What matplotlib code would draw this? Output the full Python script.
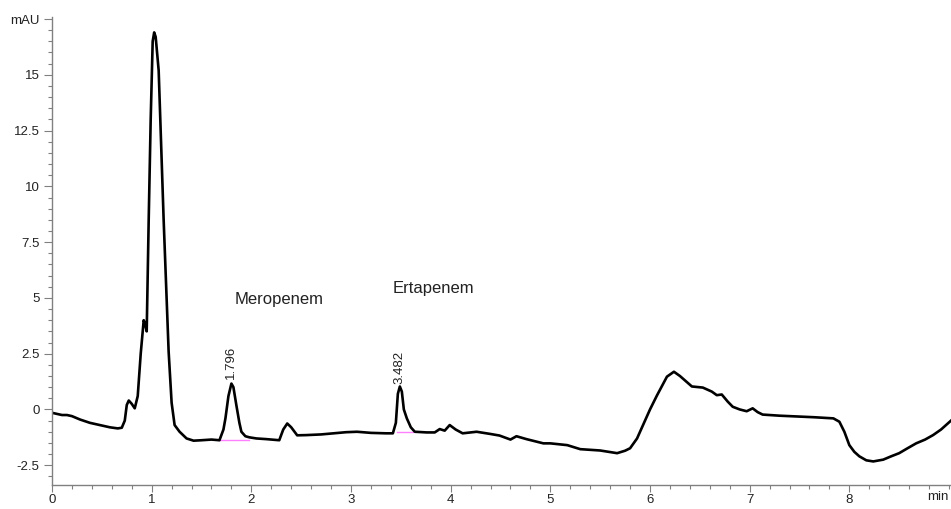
import matplotlib
matplotlib.use("Agg")
import matplotlib.pyplot as plt
from matplotlib.ticker import MultipleLocator

plt.rcParams['font.family'] = ['Liberation Sans', 'DejaVu Sans']

# chromatogram trace (time in min, signal in mAU)
time_min = [0.00, 0.05, 0.10, 0.15, 0.20, 0.28, 0.38, 0.48, 0.58, 0.66,
            0.70, 0.73, 0.75, 0.77, 0.80, 0.83, 0.86, 0.89, 0.92, 0.935,
            0.95, 0.97, 0.99, 1.01, 1.025, 1.04, 1.07, 1.12, 1.17, 1.20,
            1.23, 1.28, 1.35, 1.42, 1.50, 1.60, 1.68, 1.72, 1.74, 1.77,
            1.80, 1.82, 1.85, 1.88, 1.90, 1.94, 1.98, 2.05, 2.15, 2.28,
            2.32, 2.36, 2.40, 2.46, 2.55, 2.70, 2.82, 2.95, 3.06, 3.20,
            3.35, 3.42, 3.45, 3.47, 3.49, 3.51, 3.53, 3.56, 3.60, 3.64,
            3.76, 3.84, 3.89, 3.94, 3.99, 4.05, 4.12, 4.26, 4.40, 4.49,
            4.60, 4.66, 4.70, 4.76, 4.93, 5.00, 5.17, 5.30, 5.50, 5.67,
            5.75, 5.80, 5.87, 5.93, 6.00, 6.07, 6.17, 6.24, 6.30, 6.42,
            6.53, 6.62, 6.67, 6.72, 6.78, 6.83, 6.90, 6.97, 7.03, 7.08,
            7.13, 7.30, 7.50, 7.65, 7.84, 7.90, 7.95, 8.00, 8.05, 8.10,
            8.17, 8.24, 8.34, 8.42, 8.50, 8.58, 8.67, 8.76, 8.84, 8.92,
            9.02]
signal_mau = [-0.15, -0.20, -0.25, -0.25, -0.30, -0.45, -0.60, -0.70, -0.80, -0.85,
              -0.82, -0.50, 0.20, 0.40, 0.25, 0.05, 0.60, 2.50, 4.00, 3.80,
              3.50, 8.50, 13.0, 16.5, 16.9, 16.7, 15.2, 8.50, 2.60, 0.30,
              -0.70, -1.00, -1.30, -1.40, -1.38, -1.35, -1.38, -0.90, -0.40, 0.60,
              1.16, 1.00, 0.18, -0.60, -1.00, -1.20, -1.25, -1.30, -1.33, -1.38,
              -0.90, -0.63, -0.80, -1.16, -1.15, -1.12, -1.07, -1.02, -1.00, -1.05,
              -1.07, -1.07, -0.60, 0.70, 1.03, 0.80, 0.00, -0.40, -0.80, -1.00,
              -1.03, -1.03, -0.88, -0.95, -0.70, -0.90, -1.07, -1.00, -1.10, -1.17,
              -1.35, -1.20, -1.25, -1.33, -1.52, -1.52, -1.60, -1.78, -1.84, -1.96,
              -1.85, -1.74, -1.30, -0.70, 0.00, 0.63, 1.47, 1.69, 1.50, 1.03,
              0.98, 0.80, 0.64, 0.67, 0.35, 0.12, 0.00, -0.08, 0.05, -0.12,
              -0.23, -0.28, -0.32, -0.35, -0.40, -0.55, -1.00, -1.60, -1.90, -2.10,
              -2.28, -2.33, -2.25, -2.10, -1.96, -1.75, -1.52, -1.35, -1.15, -0.90,
              -0.50]

# integration baselines (start, end, level)
baselines = [(1.68, 1.98, -1.38), (3.46, 3.62, -1.03)]

peak_times = [1.796, 3.482]
peak_label_y = [1.35, 1.15]
compound_names = ["Meropenem", "Ertapenem"]
compound_pos = [(1.835, 4.91), (3.42, 5.40)]

ytick_vals = [-2.5, 0, 2.5, 5, 7.5, 10, 12.5, 15, 17.5]
ytick_text = ["-2.5", "0", "2.5", "5", "7.5", "10", "12.5", "15", "mAU"]
xtick_vals = [0, 1, 2, 3, 4, 5, 6, 7, 8]

fig = plt.figure(figsize=(9.51, 5.09), dpi=100)
ax = fig.add_axes([0.0547, 0.047, 0.9453, 0.920])

for x0, x1, lvl in baselines:
    ax.plot([x0, x1], [lvl, lvl], color='#ff80ff', lw=1.0, zorder=1)

ax.plot(time_min, signal_mau, color='black', lw=1.9, zorder=2,
        solid_joinstyle='round')

for t, ly in zip(peak_times, peak_label_y):
    ax.text(t, ly, f"{t:.3f}", rotation=90, ha='center', va='bottom',
            fontsize=9.5, color='#222222')

for name, (tx, ty) in zip(compound_names, compound_pos):
    ax.text(tx, ty, name, ha='left', va='center', fontsize=12, color='#222222')

ax.set_xlim(0, 9.02)
ax.set_ylim(-3.39, 17.6)
ax.set_yticks(ytick_vals)
ax.set_yticklabels(ytick_text)
ax.set_xticks(xtick_vals)
ax.xaxis.set_minor_locator(MultipleLocator(0.2))
ax.yaxis.set_minor_locator(MultipleLocator(0.5))

# unit label at the right end of the time axis
ax.text(8.886, -0.012, "min", ha='center', va='top', fontsize=9.5,
        color='#222222', transform=ax.get_xaxis_transform())

for side in ['top', 'right']:
    ax.spines[side].set_visible(False)
for side in ['left', 'bottom']:
    ax.spines[side].set_color('#808080')
    ax.spines[side].set_linewidth(1.0)

ax.tick_params(which='major', length=6, width=0.8, color='#808080',
               labelsize=9.5, labelcolor='#222222', pad=3)
ax.tick_params(which='minor', length=3, width=0.8, color='#808080')
ax.tick_params(axis='x', which='major', length=5, pad=1.5)

fig.savefig("out.png", dpi=100)
